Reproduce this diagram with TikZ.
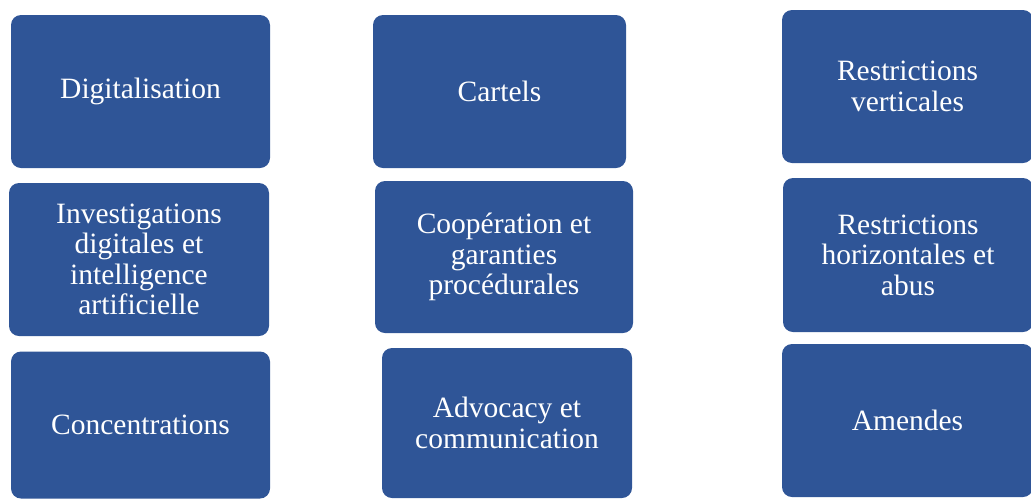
\documentclass[tikz,border=0pt]{standalone}
\usepackage{fontspec}
\setmainfont{Liberation Serif}
\definecolor{boxblue}{HTML}{2F5597}
\begin{document}
\begin{tikzpicture}[x=1pt,y=-1pt,
  card/.style={fill=boxblue, draw=none, rounded corners=10pt, text=white,
    align=center, inner sep=0pt, font=\fontsize{29.5}{30.5}\selectfont},
]
\useasboundingbox (0,0) rectangle (1031,499);
\clip (0,0) rectangle (1031,499);
\node[card, minimum width=259pt, minimum height=153pt] (digit) at (140.5,91.5) {Digitalisation};
\node[card, minimum width=260pt, minimum height=153pt] (invest) at (139,259.5) {Investigations\\digitales et\\intelligence\\artificielle};
\node[card, minimum width=259pt, minimum height=147pt] (concent) at (140.5,425) {Concentrations};
\node[card, minimum width=253pt, minimum height=153pt] (cartels) at (499.5,91.5) {Cartels};
\node[card, minimum width=258pt, minimum height=152pt] (coop) at (504,257) {Coopération et\\garanties\\procédurales};
\node[card, minimum width=250pt, minimum height=150pt] (advoc) at (507,423) {Advocacy et\\communication};
\node[card, minimum width=251pt, minimum height=153pt] (vert) at (907.5,86.5) {Restrictions\\verticales};
\node[card, minimum width=250pt, minimum height=154pt] (horiz) at (908,255) {Restrictions\\horizontales et\\abus};
\node[card, minimum width=251pt, minimum height=153pt] (amend) at (907.5,420.5) {Amendes};
\end{tikzpicture}
\end{document}
